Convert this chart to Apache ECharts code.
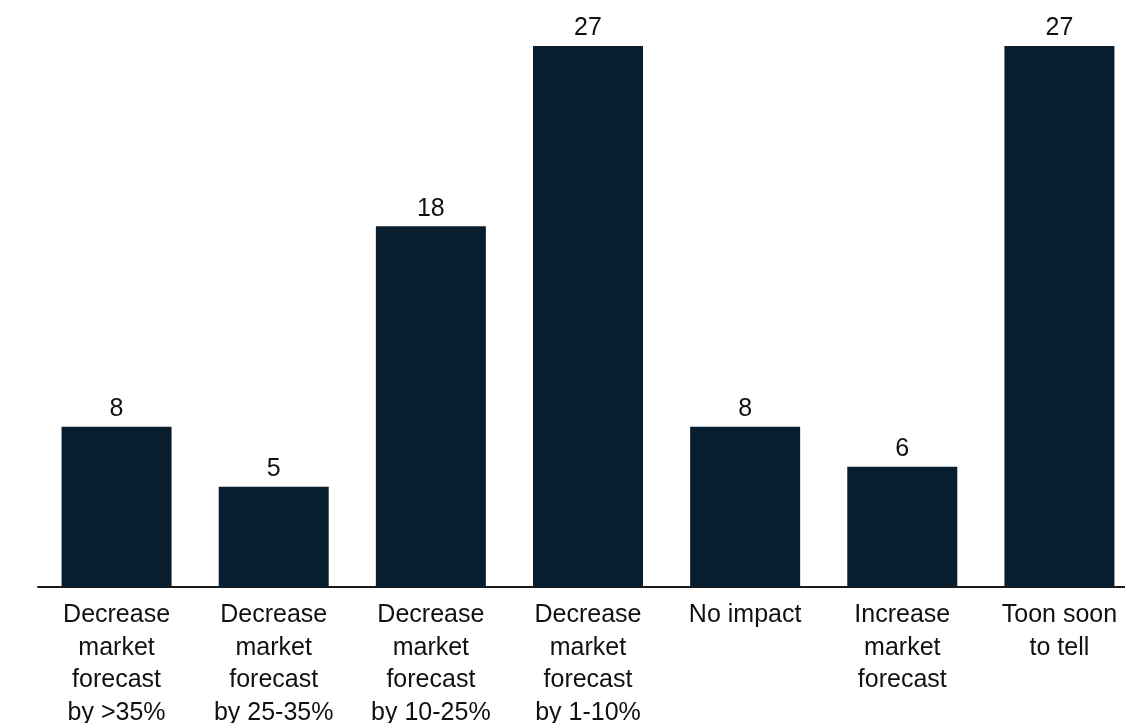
<!DOCTYPE html>
<html>
<head>
<meta charset="utf-8">
<script src="https://cdn.jsdelivr.net/npm/echarts@6/dist/echarts.min.js"></script>
<style>html,body{margin:0;padding:0;background:#fff;overflow:hidden;}#c{width:1125px;height:723px;}</style>
</head>
<body>
<div id="c"></div>
<script>
const categories = [
  "Decrease\nmarket\nforecast\nby >35%",
  "Decrease\nmarket\nforecast\nby 25-35%",
  "Decrease\nmarket\nforecast\nby 10-25%",
  "Decrease\nmarket\nforecast\nby 1-10%",
  "No impact",
  "Increase\nmarket\nforecast",
  "Toon soon\nto tell"
];
const values = [8, 5, 18, 27, 8, 6, 27];

const chart = echarts.init(document.getElementById('c'), null, {renderer: 'canvas'});
chart.setOption({
  animation: false,
  backgroundColor: '#ffffff',
  grid: {left: 38, right: -13, top: 46, bottom: 136, containLabel: false, outerBoundsMode: 'none'},
  xAxis: {
    type: 'category',
    data: categories,
    axisLine: {show: true, lineStyle: {color: '#1a1a1a', width: 2}},
    axisTick: {show: false},
    axisLabel: {
      interval: 0,
      margin: 12,
      color: '#111111',
      fontFamily: 'Liberation Sans, Arial, sans-serif',
      fontSize: 25,
      lineHeight: 32.5,
      verticalAlign: 'top'
    }
  },
  yAxis: {
    type: 'value',
    min: 0,
    max: 27,
    show: false,
    splitLine: {show: false}
  },
  series: [{
    type: 'bar',
    data: values,
    barWidth: 110,
    itemStyle: {color: '#081e2e'},
    label: {
      show: true,
      position: 'top',
      distance: 5,
      color: '#111111',
      fontFamily: 'Liberation Sans, Arial, sans-serif',
      fontSize: 25
    }
  }]
});
</script>
</body>
</html>
